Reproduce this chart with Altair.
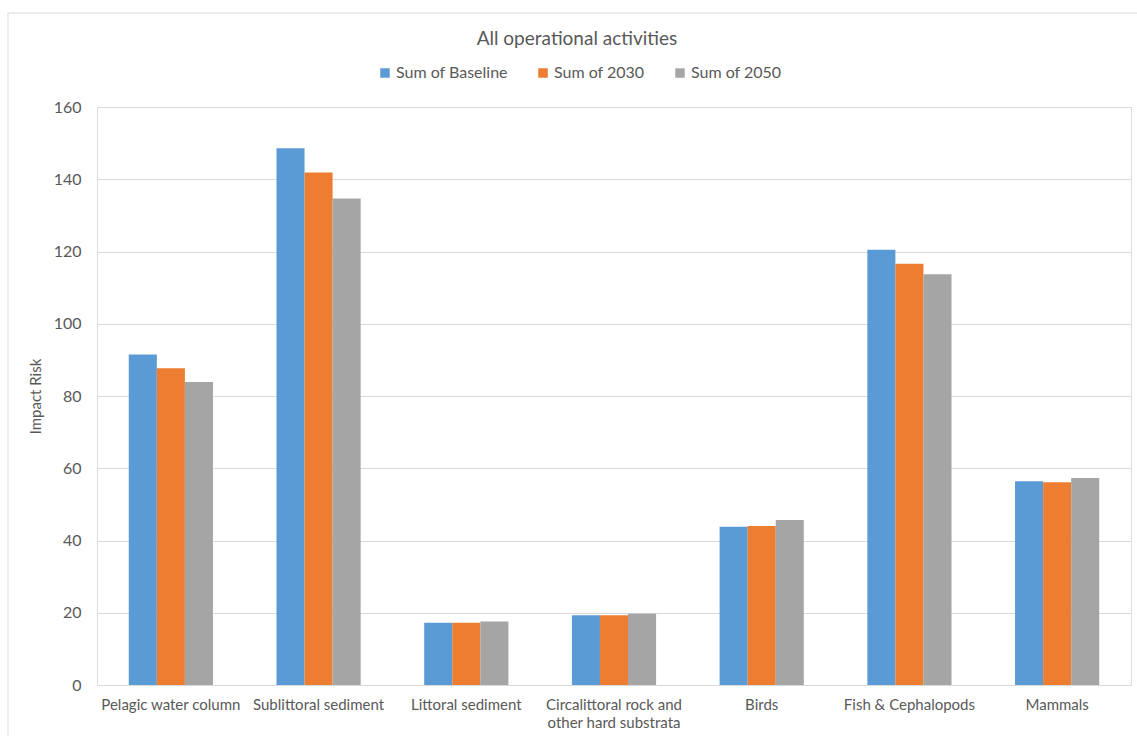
import altair as alt
import pandas as pd

categories = [
    "Pelagic water column",
    "Sublittoral sediment",
    "Littoral sediment",
    "Circalittoral rock and other hard substrata",
    "Birds",
    "Fish & Cephalopods",
    "Mammals",
]
series = ["Sum of Baseline", "Sum of 2030", "Sum of 2050"]
baseline = [91.5, 148.6, 17.2, 19.3, 43.8, 120.5, 56.4]
y2030 = [87.7, 141.9, 17.2, 19.3, 44.0, 116.6, 56.1]
y2050 = [83.9, 134.7, 17.6, 19.7, 45.7, 113.7, 57.3]
colors = ["#5B9BD5", "#ED7D31", "#A5A5A5"]
y_ticks = [0, 20, 40, 60, 80, 100, 120, 140, 160]

rows = []
for s, vals in zip(series, [baseline, y2030, y2050]):
    for c, v in zip(categories, vals):
        rows.append({"Category": c, "Series": s, "Value": v})
df = pd.DataFrame(rows)

FONT = "Lato"
TXT = "#595959"
W, H = 1034, 578

bars = alt.Chart(df).mark_bar().encode(
    x=alt.X(
        "Category:N",
        sort=categories,
        title=None,
        scale=alt.Scale(paddingInner=0.43, paddingOuter=0.215),
        axis=alt.Axis(
            labelAngle=0,
            labelFontSize=15,
            labelColor=TXT,
            labelFont=FONT,
            labelPadding=12,
            labelLimit=300,
            labelLineHeight=18,
            ticks=False,
            domainColor="#D9D9D9",
            labelExpr="datum.value == 'Circalittoral rock and other hard substrata' ? ['Circalittoral rock and', 'other hard substrata'] : datum.label",
        ),
    ),
    xOffset=alt.XOffset("Series:N", sort=series),
    y=alt.Y(
        "Value:Q",
        title="Impact Risk",
        scale=alt.Scale(domain=[0, 160], nice=False),
        axis=alt.Axis(
            values=y_ticks,
            labelFontSize=16,
            labelColor=TXT,
            labelFont=FONT,
            labelPadding=16,
            ticks=False,
            domain=False,
            gridColor="#D9D9D9",
            titleFontSize=15,
            titleFontWeight="normal",
            titleColor=TXT,
            titleFont=FONT,
            titlePadding=10,
        ),
    ),
    color=alt.Color(
        "Series:N",
        sort=series,
        scale=alt.Scale(domain=series, range=colors),
        legend=alt.Legend(
            title=None,
            orient="none",
            direction="horizontal",
            legendX=280,
            legendY=-42,
            symbolType="square",
            symbolSize=90,
            symbolStrokeWidth=0,
            labelFontSize=16,
            labelColor=TXT,
            labelFont=FONT,
            columnPadding=27,
            labelOffset=3,
        ),
    ),
)

# light outline around the chart area
frame = alt.Chart(pd.DataFrame({"f": [0]})).mark_rect(
    fill=None, stroke="#D9D9D9", strokeWidth=1
).encode(
    x=alt.value(-89),
    x2=alt.value(W + 40),
    y=alt.value(-94),
    y2=alt.value(H + 80),
)

chart = alt.layer(frame, bars).properties(
    width=W,
    height=H,
    autosize=alt.AutoSizeParams(type="none"),
    padding={"left": 97, "top": 107, "right": 6, "bottom": 51},
    title=alt.Title(
        "All operational activities",
        fontSize=19,
        font=FONT,
        fontWeight="normal",
        color=TXT,
        offset=-36,
        dx=-37,
    ),
).configure_view(stroke=None).configure(background="white")

chart.save("out.html", embed_options={"renderer": "svg", "actions": False})
